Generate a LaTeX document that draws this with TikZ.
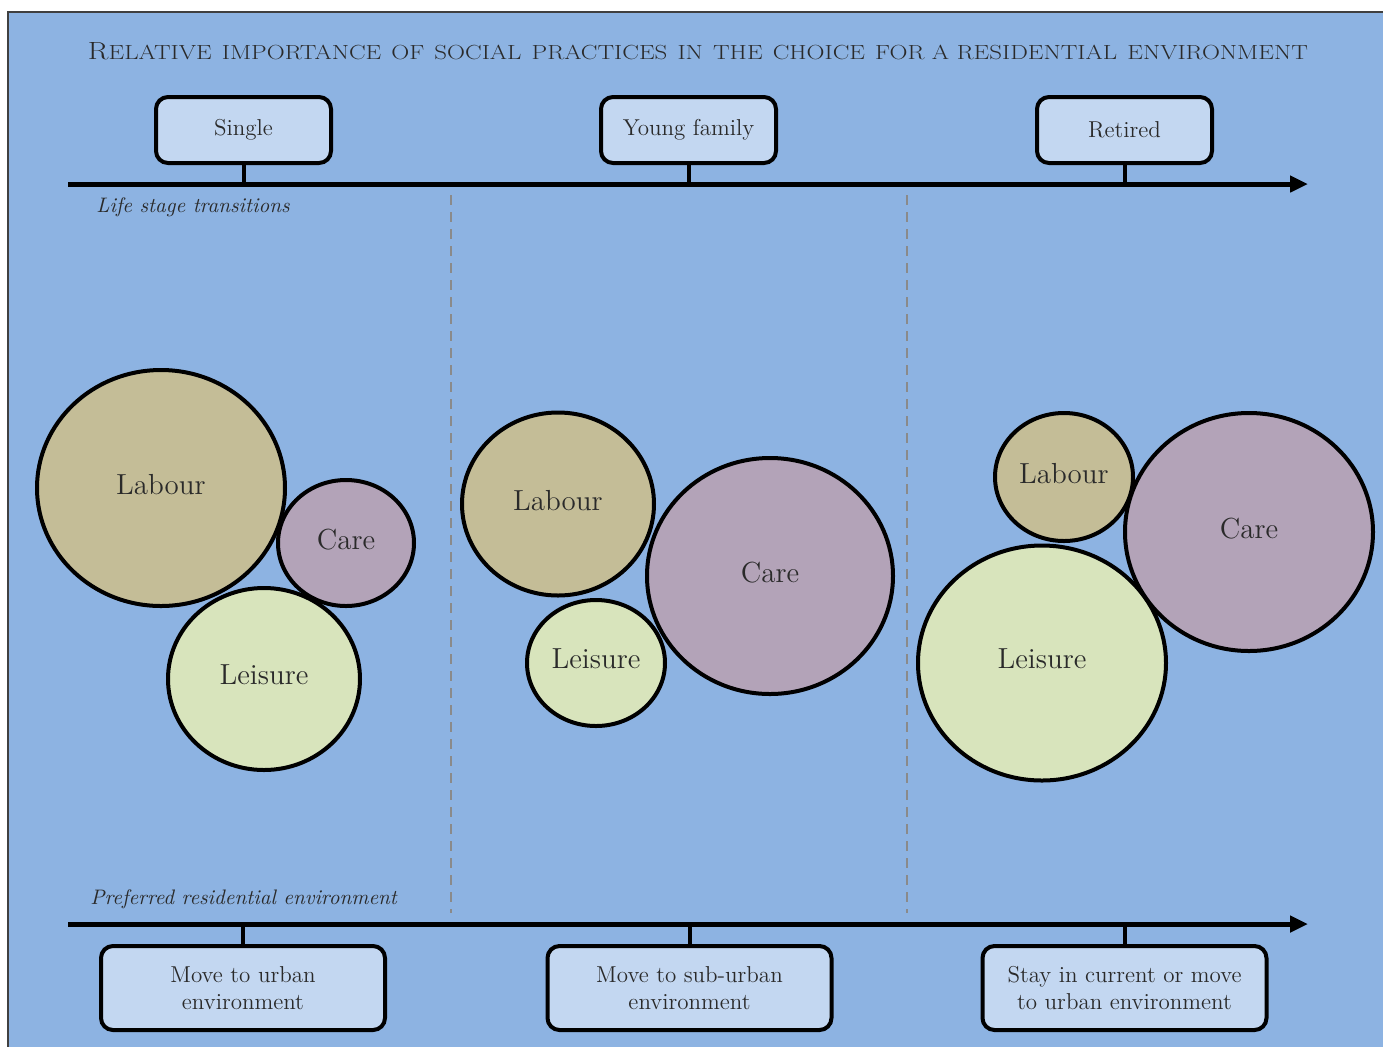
\documentclass[tikz,border=0pt]{standalone}
\usetikzlibrary{shapes.geometric,arrows.meta}
\definecolor{bg}{HTML}{8DB3E2}
\definecolor{boxfill}{HTML}{C3D7F1}
\definecolor{labourc}{HTML}{C4BD97}
\definecolor{carec}{HTML}{B3A3B8}
\definecolor{leisurec}{HTML}{D8E4BC}
\definecolor{txt}{HTML}{2A2A2A}
\definecolor{framec}{HTML}{404040}
\definecolor{dashc}{HTML}{8A8A8A}
\newcommand{\bigc}[1]{{\fontsize{20}{20}\selectfont #1}}
\newcommand{\smc}[1]{{\fontsize{16.4}{20}\selectfont #1}}
\begin{document}
\begin{tikzpicture}[x=0.5pt,y=-0.5pt,
  stagebox/.style={draw=black, fill=boxfill, line width=2pt, rounded corners=6pt,
    minimum width=87.5pt, minimum height=33pt, inner sep=2pt, text=txt,
    font=\fontsize{11.5}{13}\selectfont},
  envbox/.style={stagebox, minimum width=142pt, minimum height=42pt, align=center,
    font=\fontsize{11.5}{13.5}\selectfont},
  bubble/.style={ellipse, draw=black, line width=2pt, inner sep=0pt, text=txt,
    text depth=4pt, font=\fontsize{14.5}{16}\selectfont},
  labour/.style={bubble, fill=labourc},
  care/.style={bubble, fill=carec},
  leisure/.style={bubble, fill=leisurec},
  axisline/.style={line width=2.5pt, -{Triangle[length=9pt,width=8pt]}},
  stem/.style={line width=2pt},
  divider/.style={draw=dashc, line width=0.7pt, dash pattern=on 5pt off 3.5pt},
  axislabel/.style={anchor=west, text=txt, inner sep=0pt, font=\fontsize{10.5}{12}\selectfont\itshape},
  titletext/.style={text=txt, inner sep=0pt, anchor=base}]
\useasboundingbox (0,0) rectangle (1383,1046);
\clip (0,0) rectangle (1383,1046);
\fill[white] (0,0) rectangle (1383,1046);
\draw[framec, line width=1pt, fill=bg] (8,12) rectangle (1400,1060);

% title
\node[titletext] (title) at (698,59) {\resizebox{610pt}{8.5pt}{\bigc{R}\smc{ELATIVE}\ \ \smc{IMPORTANCE}\ \ \smc{OF}\ \ \smc{SOCIAL}\ \ \smc{PRACTICES}\ \ \smc{IN}\ \ \smc{THE}\ \ \smc{CHOICE}\ \ \smc{FOR A RESIDENTIAL}\ \ \smc{ENVIRONMENT}}};

% axes
\coordinate (ta0) at (68,184);
\coordinate (ta1) at (1308,184);
\coordinate (ba0) at (68,924);
\coordinate (ba1) at (1308,924);
\draw[axisline] (ta0) -- (ta1);
\draw[axisline] (ba0) -- (ba1);

% dividers
\coordinate (d1t) at (451,195);
\coordinate (d1b) at (451,913);
\coordinate (d2t) at (907,195);
\coordinate (d2b) at (907,913);
\draw[divider] (d1t) -- (d1b);
\draw[divider] (d2t) -- (d2b);

% axis labels
\node[axislabel] (lst) at (96,207) {Life stage transitions};
\node[axislabel] (pre) at (90,899) {Preferred residential environment};

% stage boxes
\node[stagebox] (single) at (243.5,130) {Single};
\node[stagebox] (young) at (688.5,130) {Young family};
\node[stagebox] (retired) at (1124.5,130) {Retired};
\draw[stem] (single.south) -- (single.south |- ta0);
\draw[stem] (young.south) -- (young.south |- ta0);
\draw[stem] (retired.south) -- (retired.south |- ta0);

% environment boxes
\node[envbox] (urban) at (243,988) {Move to urban\\environment};
\node[envbox] (suburban) at (689.5,988) {Move to sub-urban\\environment};
\node[envbox] (stay) at (1124.5,988) {Stay in current or move\\to urban environment};
\draw[stem] (urban.north) -- (urban.north |- ba0);
\draw[stem] (suburban.north) -- (suburban.north |- ba0);
\draw[stem] (stay.north) -- (stay.north |- ba0);

% panel 1
\node[labour, minimum width=124pt, minimum height=118pt] (lab1) at (161,488) {Labour};
\node[care, minimum width=68pt, minimum height=63pt] (care1) at (346,543) {Care};
\node[leisure, minimum width=96pt, minimum height=91pt] (lei1) at (264,679) {Leisure};

% panel 2
\node[labour, minimum width=96pt, minimum height=91.5pt] (lab2) at (558,504) {Labour};
\node[care, minimum width=123pt, minimum height=118pt] (care2) at (770,576) {Care};
\node[leisure, minimum width=69pt, minimum height=63pt] (lei2) at (596,663) {Leisure};

% panel 3
\node[labour, minimum width=69pt, minimum height=64pt] (lab3) at (1064,477) {Labour};
\node[care, minimum width=124pt, minimum height=119pt] (care3) at (1249,532) {Care};
\node[leisure, minimum width=124pt, minimum height=117.5pt] (lei3) at (1042,663) {Leisure};
\end{tikzpicture}
\end{document}
